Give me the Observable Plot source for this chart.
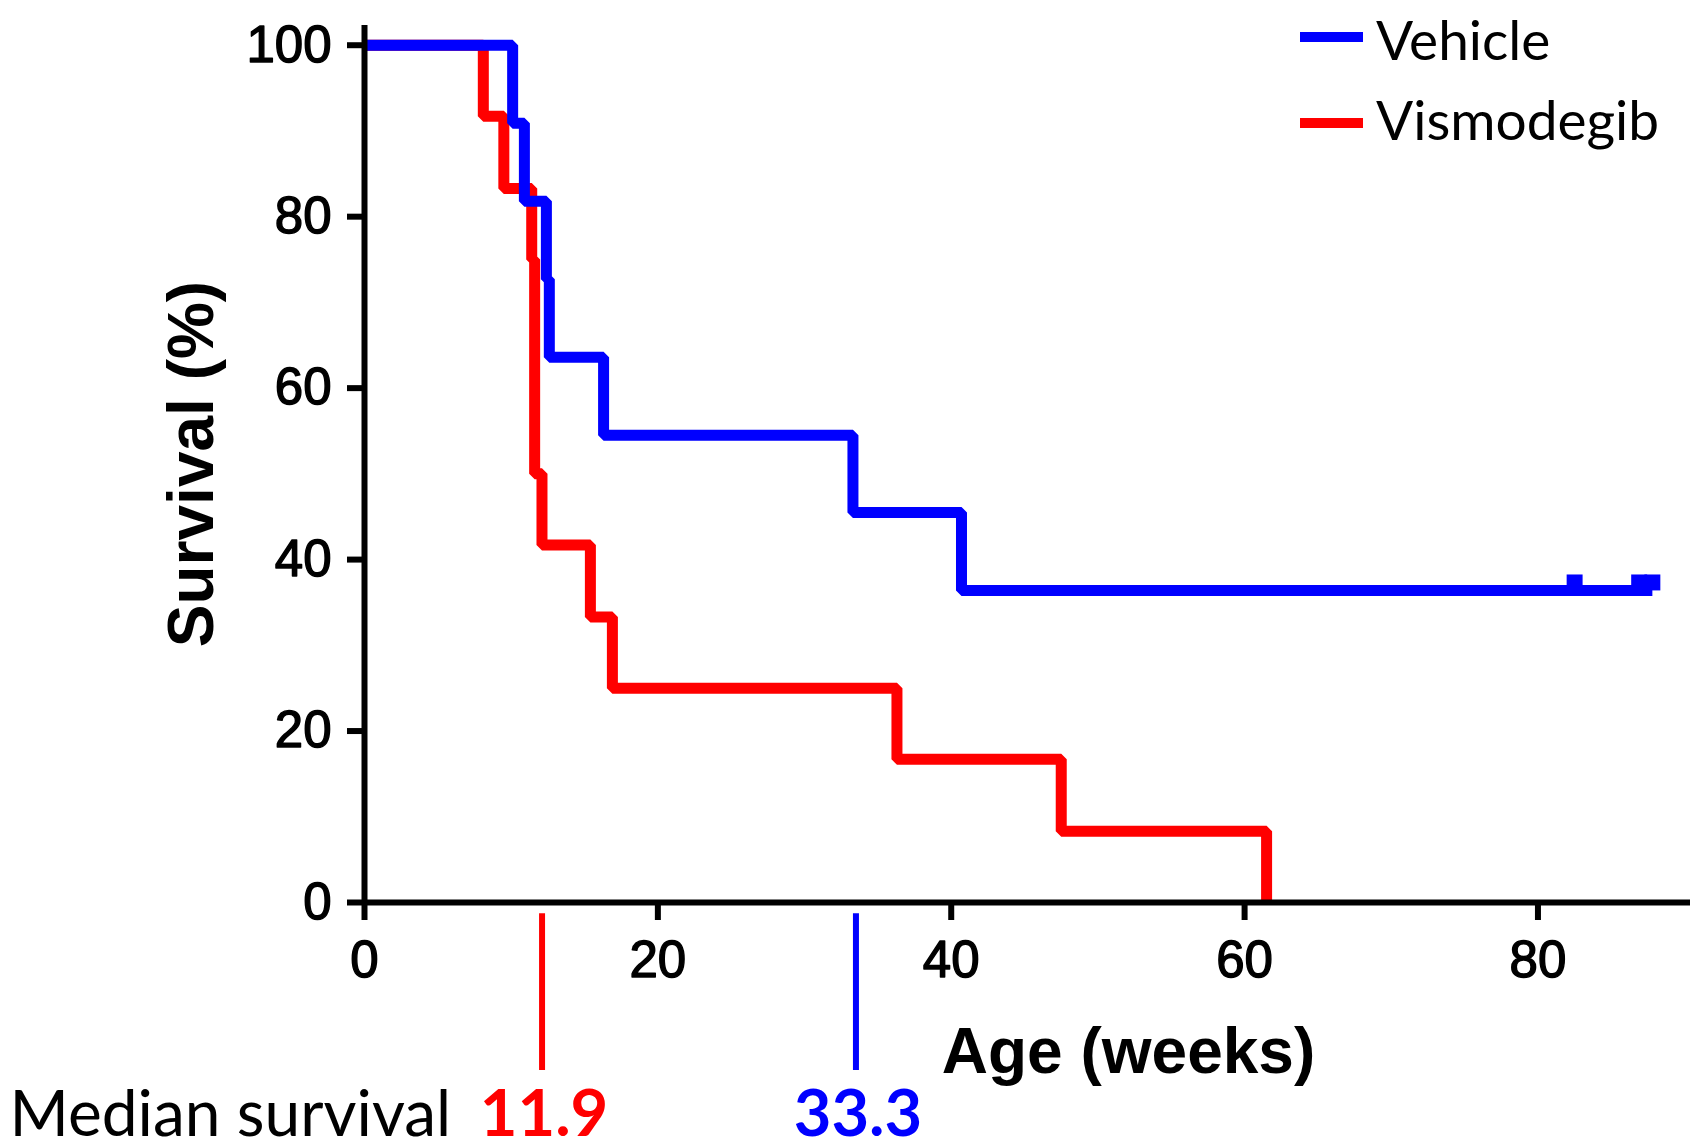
<!DOCTYPE html>
<html>
<head>
<meta charset="utf-8">
<script src="https://cdn.jsdelivr.net/npm/d3@7"></script>
<script src="https://cdn.jsdelivr.net/npm/@observablehq/plot@0.6"></script>
<style>
  html, body { margin: 0; padding: 0; background: #fff; }
  #wrap { position: relative; width: 1697px; height: 1148px; }
  #legend { position: absolute; left: 1300px; top: 0; font-family: Lato, "Open Sans", sans-serif; font-size: 55px; color: #000; }
  .sw { position: absolute; left: 0; width: 63px; height: 10px; }
  .lab { position: absolute; left: 76px; line-height: 55px; white-space: nowrap; }
</style>
</head>
<body>
<div id="wrap"><div id="legend"></div></div>
<script>
// ---- data ----
const seriesNames = ["Vehicle", "Vismodegib"];
const seriesColors = ["#0000ff", "#ff0000"];

const vehicleTimes    = [0, 10.1, 10.9, 12.4, 12.6, 16.3, 33.3, 40.7, 87.8];
const vehicleSurvival = [100, 90.9, 81.8, 72.7, 63.6, 54.5, 45.5, 36.4, 36.4];
const vehicleCensored = [82.5, 86.9, 87.8];

const vismodegibTimes    = [0, 8.1, 9.5, 11.4, 11.6, 12.1, 15.4, 16.9, 36.3, 47.5, 61.5];
const vismodegibSurvival = [100, 91.7, 83.3, 75, 50, 41.7, 33.3, 25, 16.7, 8.3, 0];

const medianGroups = ["Vismodegib", "Vehicle"];
const medianValues = [11.9, 33.3];
const medianCaption = "Median survival";

const xTicks = [0, 20, 40, 60, 80];
const yTicks = [0, 20, 40, 60, 80, 100];
const xLabel = "Age (weeks)";
const yLabel = "Survival (%)";

// ---- tables built from arrays ----
const color = Object.fromEntries(seriesNames.map((n, i) => [n, seriesColors[i]]));
const vehicle = vehicleTimes.map((t, i) => ({t, s: vehicleSurvival[i]}));
const vismodegib = vismodegibTimes.map((t, i) => ({t, s: vismodegibSurvival[i]}));
const lastVehicle = vehicleSurvival[vehicleSurvival.length - 1];
const censored = vehicleCensored.map(t => ({t, s: lastVehicle}));
const medians = medianGroups.map((g, i) => ({g, v: medianValues[i]}));

const sans = "'Liberation Sans', Arial, sans-serif";
const calib = "Lato, 'Open Sans', sans-serif";

const chart = Plot.plot({
  width: 1697,
  height: 1148,
  marginLeft: 364,
  marginRight: 7,
  marginTop: 25,
  marginBottom: 246,
  x: {domain: [0, 90.4]},
  y: {domain: [0, 102.3]},
  style: {fontFamily: sans, fontSize: "51px", color: "#000", background: "transparent", overflow: "visible"},
  marks: [
    Plot.line(vismodegib, {x: "t", y: "s", curve: "step-after", stroke: color["Vismodegib"], strokeWidth: 11, strokeLinejoin: "miter", strokeLinecap: "butt"}),
    Plot.line(vehicle, {x: "t", y: "s", curve: "step-after", stroke: color["Vehicle"], strokeWidth: 11, strokeLinejoin: "miter", strokeLinecap: "butt"}),
    Plot.dot(censored, {x: "t", y: "s", symbol: "square", r: 9, dy: -8, fill: color["Vehicle"], stroke: "none"}),
    Plot.axisY({ticks: yTicks, tickSize: 17, tickPadding: 16, strokeWidth: 6, fontSize: 51, label: null, fill: "#000", textStroke: "#000", textStrokeWidth: 1.4}),
    Plot.axisX({ticks: xTicks, tickSize: 18, tickPadding: 20, strokeWidth: 6, fontSize: 51, label: null, fill: "#000", textStroke: "#000", textStrokeWidth: 1.4}),
    Plot.ruleX([0], {strokeWidth: 6, stroke: "#000"}),
    Plot.ruleY([0], {strokeWidth: 6, stroke: "#000"}),
    // axis titles
    Plot.text([yLabel], {text: d => d, frameAnchor: "left", dx: -152, rotate: -90, lineAnchor: "bottom", textAnchor: "middle", fontSize: 64, fontWeight: "bold", fontFamily: sans, fill: "#000"}),
    Plot.text([xLabel], {text: d => d, frameAnchor: "bottom", dx: 101, dy: 170, lineAnchor: "bottom", textAnchor: "middle", fontSize: 64, fontWeight: "bold", fontFamily: sans, fill: "#000"}),
    // median survival annotation
    Plot.ruleX(medians, {x: "v", y1: -1.3, y2: -19.6, stroke: d => color[d.g], strokeWidth: 6, dx: 3}),
    Plot.text(medians, {x: "v", text: d => String(d.v), frameAnchor: "bottom", dx: 5, dy: 233, lineAnchor: "bottom", textAnchor: "middle", fontSize: 65, fontWeight: "bold", fontFamily: calib, fill: d => color[d.g]}),
    Plot.text([medianCaption], {text: d => d, frameAnchor: "bottom-left", dx: -355, dy: 233, lineAnchor: "bottom", textAnchor: "start", fontSize: 64, fontFamily: calib, fill: "#000"})
  ]
});
document.getElementById("wrap").prepend(chart);

// legend
const legend = document.getElementById("legend");
const swatchTops = [32, 118];
const labelTops = [12, 92];
seriesNames.forEach((n, i) => {
  const sw = document.createElement("div");
  sw.className = "sw";
  sw.style.top = swatchTops[i] + "px";
  sw.style.background = color[n];
  legend.appendChild(sw);
  const lab = document.createElement("div");
  lab.className = "lab";
  lab.style.top = labelTops[i] + "px";
  lab.textContent = n;
  legend.appendChild(lab);
});
</script>
</body>
</html>
